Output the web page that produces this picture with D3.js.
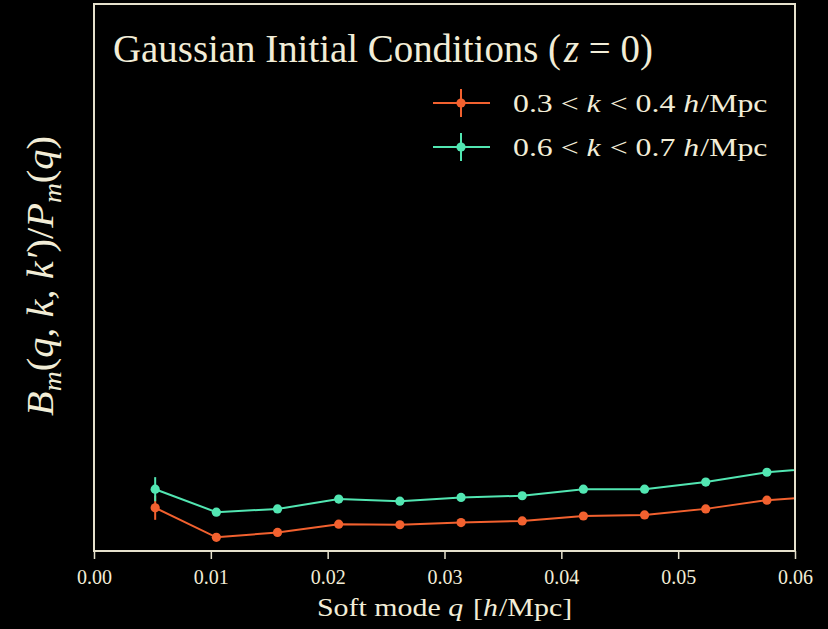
<!DOCTYPE html>
<html>
<head>
<meta charset="utf-8">
<script src="https://cdn.jsdelivr.net/npm/d3@7"></script>
<style>
  html, body { margin: 0; padding: 0; background: #000; }
  svg { display: block; }
  text { font-family: "Liberation Serif", "DejaVu Serif", serif; fill: #f2edd7; }
</style>
</head>
<body>
<div id="chart"></div>
<script>
// ---- data ----
const softModes = [0.005236, 0.010472, 0.015708, 0.020944, 0.026180, 0.031416,
                   0.036652, 0.041888, 0.047124, 0.052360, 0.057596, 0.062832];
const seriesLowK = [0.79, 0.25, 0.34, 0.49, 0.48, 0.52, 0.55, 0.64, 0.66, 0.77, 0.93, 1.00];
const errLowK    = [0.22, 0.04, 0.04, 0.04, 0.04, 0.04, 0.04, 0.04, 0.04, 0.04, 0.04, 0.04];
const seriesHighK = [1.13, 0.71, 0.77, 0.95, 0.91, 0.98, 1.01, 1.13, 1.13, 1.26, 1.44, 1.53];
const errHighK    = [0.22, 0.04, 0.04, 0.04, 0.04, 0.04, 0.04, 0.04, 0.04, 0.04, 0.04, 0.04];
const xTicks = [0.00, 0.01, 0.02, 0.03, 0.04, 0.05, 0.06];
const legendLabels = ["0.3 < k < 0.4 h/Mpc", "0.6 < k < 0.7 h/Mpc"];
const seriesColors = ["#f2612f", "#52e6b2"];

const W = 828, H = 629;
const m = { left: 94, right: 33, top: 4, bottom: 78 };
const iw = W - m.left - m.right, ih = H - m.top - m.bottom;
const fg = "#e6e1cc";

const svg = d3.select("#chart").append("svg").attr("width", W).attr("height", H);
svg.append("rect").attr("width", W).attr("height", H).attr("fill", "#000");

const x = d3.scaleLinear().domain([0, 0.06]).range([0, iw]);
const y = d3.scaleLinear().domain([0, 10]).range([ih, 0]);

const g = svg.append("g").attr("transform", `translate(${m.left},${m.top})`);

svg.append("defs").append("clipPath").attr("id", "clip")
  .append("rect").attr("width", iw).attr("height", ih);

const series = [
  { vals: seriesLowK, errs: errLowK, color: seriesColors[0] },
  { vals: seriesHighK, errs: errHighK, color: seriesColors[1] }
];

const plot = g.append("g").attr("clip-path", "url(#clip)");
const line = d3.line().x((d, i) => x(softModes[i])).y(d => y(d));

series.forEach(s => {
  const sg = plot.append("g");
  sg.append("path").datum(s.vals).attr("d", line)
    .attr("fill", "none").attr("stroke", s.color).attr("stroke-width", 2);
  sg.selectAll("line.err").data(s.vals).join("line").attr("class", "err")
    .attr("x1", (d, i) => x(softModes[i])).attr("x2", (d, i) => x(softModes[i]))
    .attr("y1", (d, i) => y(d - s.errs[i])).attr("y2", (d, i) => y(d + s.errs[i]))
    .attr("stroke", s.color).attr("stroke-width", 2);
  sg.selectAll("circle").data(s.vals).join("circle")
    .attr("cx", (d, i) => x(softModes[i])).attr("cy", d => y(d))
    .attr("r", 4.6).attr("fill", s.color);
});

// frame
g.append("rect").attr("width", iw).attr("height", ih)
  .attr("fill", "none").attr("stroke", fg).attr("stroke-width", 2);

// x axis
const xAxis = g.append("g").attr("transform", `translate(0,${ih})`)
  .call(d3.axisBottom(x).tickValues(xTicks).tickFormat(d3.format(".2f")).tickSize(8).tickPadding(11));
xAxis.select(".domain").remove();
xAxis.selectAll(".tick line").attr("stroke", fg).attr("stroke-width", 1.5);
xAxis.selectAll(".tick text").attr("fill", "#f2edd7").style("font-size", "20px")
  .style("font-family", '"Liberation Serif", serif');

// helper: stretch a text horizontally to a target width (about its anchor)
function fitWidth(sel, target, ax, ay, rotate) {
  const w = sel.node().getComputedTextLength();
  const sx = target / w;
  sel.attr("transform", `translate(${ax},${ay})${rotate ? " rotate(-90)" : ""} scale(${sx},1)`);
}

// x label
const xl = svg.append("text").attr("text-anchor", "middle").style("font-size", "26px");
xl.append("tspan").text("Soft mode ");
xl.append("tspan").style("font-style", "italic").text("q");
xl.append("tspan").attr("dx", 2).text(" [");
xl.append("tspan").style("font-style", "italic").text("h");
xl.append("tspan").attr("dx", 1).text("/Mpc]");
fitWidth(xl, 252, m.left + iw / 2, 616, false);

// y label
const yl = svg.append("text").attr("text-anchor", "middle")
  .style("font-size", "38px").style("font-style", "italic");
yl.append("tspan").text("B");
yl.append("tspan").attr("baseline-shift", "-28%").style("font-size", "26px").text("m");
yl.append("tspan").style("font-style", "normal").text("(");
yl.append("tspan").text("q, k, k′");
yl.append("tspan").style("font-style", "normal").text(")/");
yl.append("tspan").text("P");
yl.append("tspan").attr("baseline-shift", "-28%").style("font-size", "26px").text("m");
yl.append("tspan").style("font-style", "normal").text("(");
yl.append("tspan").text("q");
yl.append("tspan").style("font-style", "normal").text(")");
fitWidth(yl, 280, 53, 276, true);

// title
const tt = svg.append("text").style("font-size", "40px");
tt.append("tspan").text("Gaussian Initial Conditions (");
tt.append("tspan").attr("dx", 3).style("font-style", "italic").text("z");
tt.append("tspan").text(" = 0)");
fitWidth(tt, 537, 113, 62, false);

// legend
const lg = svg.append("g");
legendLabels.forEach((lab, i) => {
  const ly = 103 + i * 44;
  const c = seriesColors[i];
  lg.append("line").attr("x1", 433).attr("x2", 490).attr("y1", ly).attr("y2", ly)
    .attr("stroke", c).attr("stroke-width", 2);
  lg.append("line").attr("x1", 461).attr("x2", 461).attr("y1", ly - 14).attr("y2", ly + 14)
    .attr("stroke", c).attr("stroke-width", 2);
  lg.append("circle").attr("cx", 461).attr("cy", ly).attr("r", 4.6).attr("fill", c);
  const parts = lab.match(/^(\S+) < k < (\S+) h\/Mpc$/);
  const t = lg.append("text").style("font-size", "26px");
  t.append("tspan").text(parts[1] + " < ");
  t.append("tspan").style("font-style", "italic").text("k");
  t.append("tspan").attr("dx", 1).text(" < " + parts[2] + " ");
  t.append("tspan").style("font-style", "italic").text("h");
  t.append("tspan").attr("dx", 1).text("/Mpc");
  fitWidth(t, 252, 513, ly + 9, false);
});
</script>
</body>
</html>
